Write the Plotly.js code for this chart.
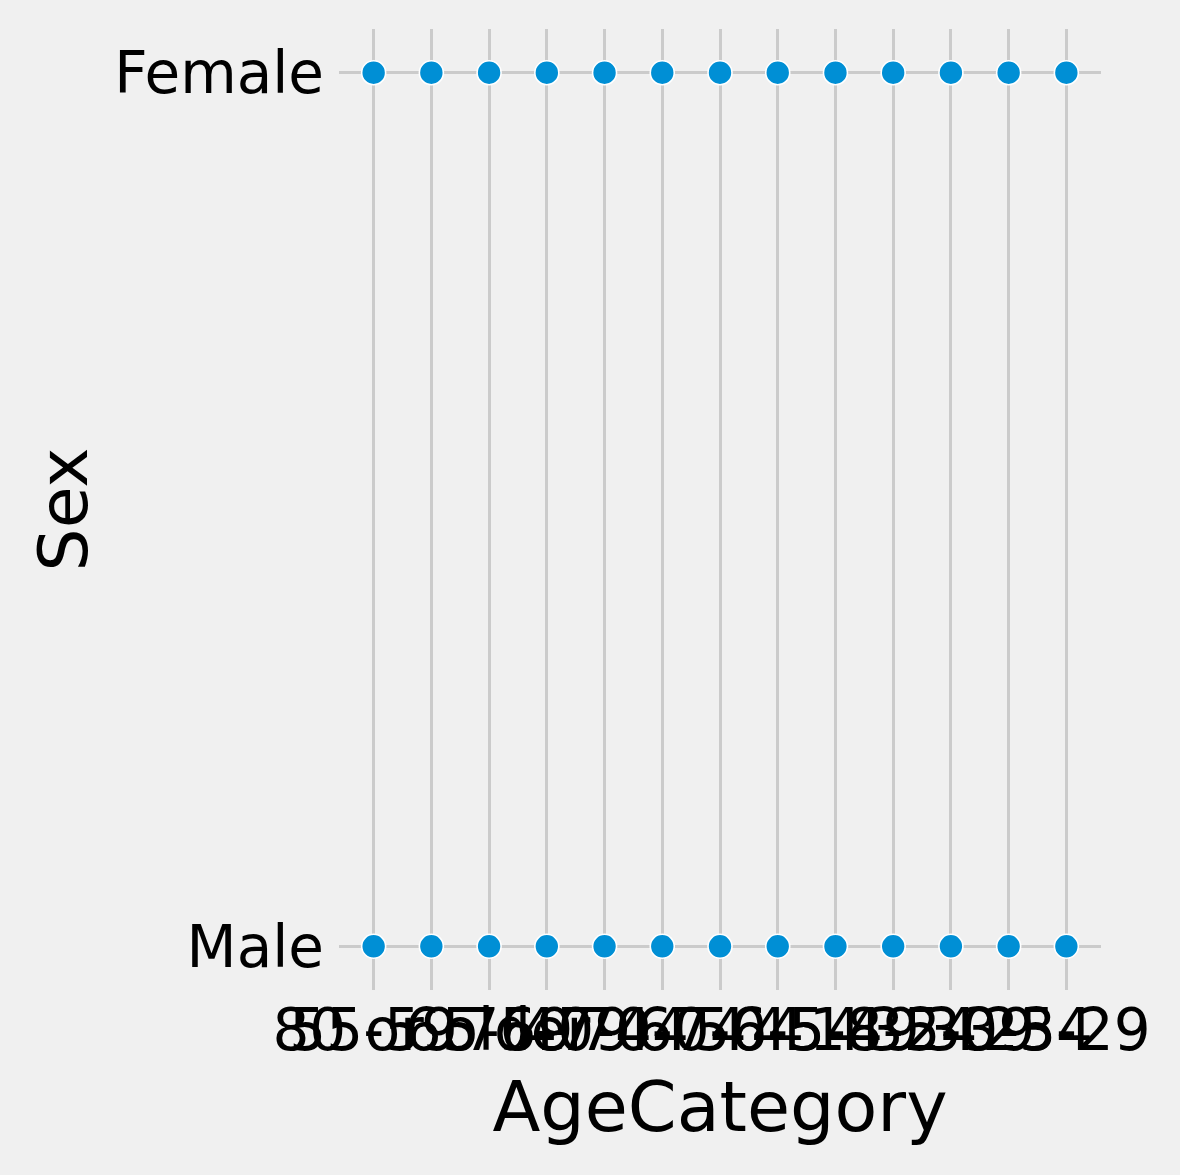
<!DOCTYPE html>
<html>
<head>
<meta charset="utf-8">
<script src="https://cdn.plot.ly/plotly-3.0.1.min.js"></script>
<style>
  html, body { margin: 0; padding: 0; background: #f0f0f0; }
  #chart { width: 1180px; height: 1175px; }
</style>
</head>
<body>
<div id="chart"></div>
<script>
// Categories (order as they appear on the x axis)
const ageCategories = ["55-59", "80 or older", "65-69", "75-79", "40-44", "70-74",
                       "60-64", "50-54", "45-49", "18-24", "35-39", "30-34", "25-29"];
// Sex categories (bottom to top)
const sexCategories = ["Male", "Female"];
// Observed (AgeCategory, Sex) pairs: every age category occurs for both sexes
const pointAge = [];
const pointSex = [];
for (const s of ["Female", "Male"]) {
  for (const a of ageCategories) { pointAge.push(a); pointSex.push(s); }
}

const FONT = "DejaVu Sans, Liberation Sans, sans-serif";

const trace = {
  type: "scatter",
  mode: "markers",
  x: pointAge,
  y: pointSex,
  marker: { color: "#008fd5", size: 24, line: { color: "#ffffff", width: 1.6 } },
  hoverinfo: "x+y",
  cliponaxis: false
};

const layout = {
  width: 1180, height: 1175,
  paper_bgcolor: "#f0f0f0",
  plot_bgcolor: "#f0f0f0",
  showlegend: false,
  margin: { l: 339, r: 79, t: 29, b: 185 },
  font: { family: FONT, color: "#000000" },
  xaxis: {
    type: "category",
    categoryorder: "array",
    categoryarray: ageCategories,
    tickmode: "array",
    tickvals: ageCategories,
    ticktext: ageCategories,
    range: [-0.6, ageCategories.length - 1 + 0.6],
    tickangle: 0,
    showgrid: true, gridcolor: "#cbcbcb", gridwidth: 3,
    zeroline: false, showline: false, ticks: "",
    tickfont: { family: FONT, size: 58, color: "#000000" },
    ticklabelstandoff: 1,
    title: { text: "AgeCategory", font: { family: FONT, size: 70, color: "#000000" }, standoff: 18 }
  },
  yaxis: {
    type: "category",
    categoryorder: "array",
    categoryarray: sexCategories,
    range: [-0.05, 1.05],
    showgrid: true, gridcolor: "#cbcbcb", gridwidth: 3,
    zeroline: false, showline: false, ticks: "",
    tickfont: { family: FONT, size: 58, color: "#000000" },
    ticklabelstandoff: 14,
    title: { text: "Sex", font: { family: FONT, size: 68, color: "#000000" }, standoff: 4 }
  }
};

Plotly.newPlot("chart", [trace], layout, { displayModeBar: false, staticPlot: true });
</script>
</body>
</html>
